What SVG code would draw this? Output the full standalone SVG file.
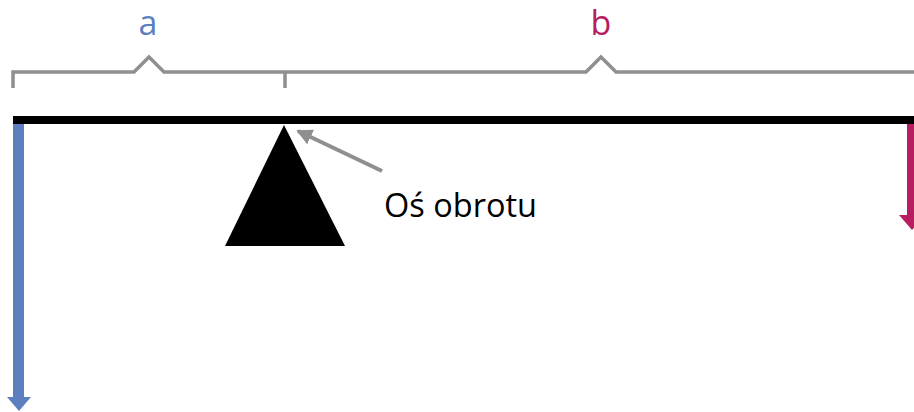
<svg xmlns="http://www.w3.org/2000/svg" width="914" height="412" viewBox="0 0 914 412">
<style>
.br{fill:none;stroke:#8f8f8f;stroke-width:3.5;stroke-linejoin:miter}
.lbl{font-family:"Open Sans","Liberation Sans",Arial,sans-serif;font-size:34px;text-anchor:middle}
</style>
<defs>
<marker id="ga" markerWidth="4" markerHeight="4" refX="3.5" refY="2" orient="auto" markerUnits="strokeWidth">
<path d="M0,0 L4,2 L0,4 Z" fill="#8f8f8f"/>
</marker>
</defs>
<rect x="0" y="0" width="914" height="412" fill="#ffffff"/>
<g id="bracket-a">
<path class="br" d="M13,88 V72 H134 L149,57 L164,72 H285"/>
<path class="br" d="M285,72 V88"/>
</g>
<g id="bracket-b">
<path class="br" d="M285,72 H586 L601,57 L616,72 H914"/>
</g>
<g id="label-a"><text class="lbl" x="148" y="35" fill="#5b7fbf">a</text></g>
<g id="label-b"><text class="lbl" x="601" y="35" fill="#b81c61">b</text></g>
<g id="beam"><rect x="13" y="116" width="901" height="8" fill="#000"/></g>
<g id="pivot"><polygon points="284,125 345,246 225,246" fill="#000"/></g>
<g id="label-axis"><text x="384" y="217" font-family="'Open Sans','Liberation Sans',Arial,sans-serif" font-size="33" textLength="153" lengthAdjust="spacingAndGlyphs" fill="#000">Oś obrotu</text></g>
<g id="connectors">
<line x1="382" y1="171" x2="298" y2="131" stroke="#8f8f8f" stroke-width="4" marker-end="url(#ga)"/>
<g id="force-a">
<rect x="13" y="124" width="11" height="274" fill="#5b7fbf"/>
<polygon points="7,397 31,397 19,411" fill="#5b7fbf"/>
</g>
<g id="force-b">
<rect x="907" y="124" width="10" height="92" fill="#b81c61"/>
<polygon points="899,215 925,215 912,230" fill="#b81c61"/>
</g>
</g>
</svg>
